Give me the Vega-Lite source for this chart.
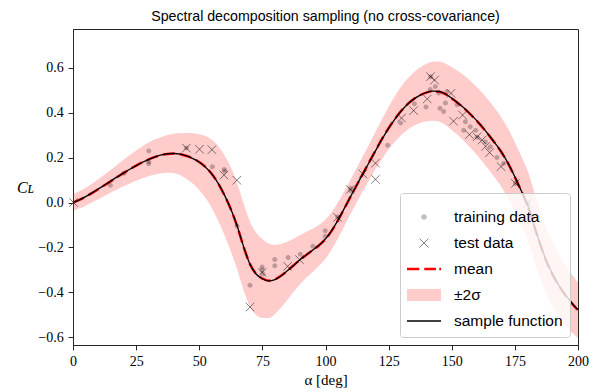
{
  "$schema": "https://vega.github.io/schema/vega-lite/v6.json",
  "width": 505,
  "height": 316,
  "autosize": {"type": "none"},
  "padding": {"left": 73, "top": 29, "right": 20, "bottom": 47},
  "title": {"text": "Spectral decomposition sampling (no cross-covariance)", "font": "Liberation Sans", "fontSize": 14.2, "fontWeight": "normal", "color": "black", "offset": 5, "anchor": "middle", "frame": "group"},
  "datasets": {
    "curve": [
      {"x": 0, "mean": 0.000, "lo": -0.037, "hi": 0.037, "sample": 0.000},
      {"x": 2.5, "mean": 0.012, "lo": -0.026, "hi": 0.050, "sample": 0.012},
      {"x": 5, "mean": 0.026, "lo": -0.014, "hi": 0.066, "sample": 0.026},
      {"x": 7.5, "mean": 0.042, "lo": 0.000, "hi": 0.084, "sample": 0.043},
      {"x": 10, "mean": 0.059, "lo": 0.014, "hi": 0.104, "sample": 0.060},
      {"x": 12.5, "mean": 0.077, "lo": 0.029, "hi": 0.125, "sample": 0.078},
      {"x": 15, "mean": 0.095, "lo": 0.044, "hi": 0.146, "sample": 0.096},
      {"x": 17.5, "mean": 0.113, "lo": 0.058, "hi": 0.168, "sample": 0.114},
      {"x": 20, "mean": 0.131, "lo": 0.072, "hi": 0.190, "sample": 0.131},
      {"x": 22.5, "mean": 0.148, "lo": 0.085, "hi": 0.211, "sample": 0.148},
      {"x": 25, "mean": 0.164, "lo": 0.097, "hi": 0.231, "sample": 0.164},
      {"x": 27.5, "mean": 0.179, "lo": 0.108, "hi": 0.250, "sample": 0.179},
      {"x": 30, "mean": 0.192, "lo": 0.117, "hi": 0.267, "sample": 0.192},
      {"x": 32.5, "mean": 0.203, "lo": 0.125, "hi": 0.281, "sample": 0.203},
      {"x": 35, "mean": 0.211, "lo": 0.130, "hi": 0.292, "sample": 0.212},
      {"x": 37.5, "mean": 0.216, "lo": 0.132, "hi": 0.300, "sample": 0.217},
      {"x": 40, "mean": 0.218, "lo": 0.130, "hi": 0.306, "sample": 0.218},
      {"x": 42.5, "mean": 0.215, "lo": 0.121, "hi": 0.309, "sample": 0.215},
      {"x": 45, "mean": 0.207, "lo": 0.105, "hi": 0.309, "sample": 0.207},
      {"x": 47.5, "mean": 0.196, "lo": 0.084, "hi": 0.308, "sample": 0.195},
      {"x": 50, "mean": 0.180, "lo": 0.056, "hi": 0.304, "sample": 0.179},
      {"x": 52.5, "mean": 0.158, "lo": 0.020, "hi": 0.296, "sample": 0.157},
      {"x": 55, "mean": 0.127, "lo": -0.025, "hi": 0.279, "sample": 0.126},
      {"x": 57.5, "mean": 0.085, "lo": -0.081, "hi": 0.251, "sample": 0.085},
      {"x": 60, "mean": 0.032, "lo": -0.146, "hi": 0.210, "sample": 0.033},
      {"x": 62.5, "mean": -0.030, "lo": -0.217, "hi": 0.157, "sample": -0.029},
      {"x": 65, "mean": -0.105, "lo": -0.297, "hi": 0.087, "sample": -0.104},
      {"x": 67.5, "mean": -0.195, "lo": -0.388, "hi": -0.002, "sample": -0.194},
      {"x": 70, "mean": -0.272, "lo": -0.462, "hi": -0.082, "sample": -0.272},
      {"x": 72.5, "mean": -0.317, "lo": -0.501, "hi": -0.133, "sample": -0.318},
      {"x": 75, "mean": -0.338, "lo": -0.514, "hi": -0.162, "sample": -0.339},
      {"x": 77.5, "mean": -0.348, "lo": -0.514, "hi": -0.182, "sample": -0.349},
      {"x": 80, "mean": -0.342, "lo": -0.496, "hi": -0.188, "sample": -0.343},
      {"x": 82.5, "mean": -0.325, "lo": -0.466, "hi": -0.184, "sample": -0.326},
      {"x": 85, "mean": -0.302, "lo": -0.431, "hi": -0.173, "sample": -0.303},
      {"x": 87.5, "mean": -0.278, "lo": -0.396, "hi": -0.160, "sample": -0.279},
      {"x": 90, "mean": -0.254, "lo": -0.363, "hi": -0.145, "sample": -0.254},
      {"x": 92.5, "mean": -0.232, "lo": -0.334, "hi": -0.130, "sample": -0.232},
      {"x": 95, "mean": -0.212, "lo": -0.308, "hi": -0.116, "sample": -0.211},
      {"x": 97.5, "mean": -0.190, "lo": -0.281, "hi": -0.099, "sample": -0.189},
      {"x": 100, "mean": -0.163, "lo": -0.250, "hi": -0.076, "sample": -0.162},
      {"x": 102.5, "mean": -0.125, "lo": -0.208, "hi": -0.042, "sample": -0.124},
      {"x": 105, "mean": -0.078, "lo": -0.158, "hi": 0.002, "sample": -0.077},
      {"x": 107.5, "mean": -0.026, "lo": -0.104, "hi": 0.052, "sample": -0.025},
      {"x": 110, "mean": 0.027, "lo": -0.050, "hi": 0.104, "sample": 0.028},
      {"x": 112.5, "mean": 0.080, "lo": 0.003, "hi": 0.157, "sample": 0.080},
      {"x": 115, "mean": 0.132, "lo": 0.054, "hi": 0.210, "sample": 0.132},
      {"x": 117.5, "mean": 0.184, "lo": 0.104, "hi": 0.264, "sample": 0.183},
      {"x": 120, "mean": 0.235, "lo": 0.151, "hi": 0.319, "sample": 0.234},
      {"x": 122.5, "mean": 0.285, "lo": 0.196, "hi": 0.374, "sample": 0.284},
      {"x": 125, "mean": 0.331, "lo": 0.236, "hi": 0.426, "sample": 0.330},
      {"x": 127.5, "mean": 0.372, "lo": 0.270, "hi": 0.474, "sample": 0.371},
      {"x": 130, "mean": 0.408, "lo": 0.300, "hi": 0.516, "sample": 0.407},
      {"x": 132.5, "mean": 0.438, "lo": 0.324, "hi": 0.552, "sample": 0.437},
      {"x": 135, "mean": 0.461, "lo": 0.342, "hi": 0.580, "sample": 0.461},
      {"x": 137.5, "mean": 0.478, "lo": 0.354, "hi": 0.602, "sample": 0.478},
      {"x": 140, "mean": 0.489, "lo": 0.361, "hi": 0.617, "sample": 0.490},
      {"x": 142.5, "mean": 0.495, "lo": 0.364, "hi": 0.626, "sample": 0.496},
      {"x": 145, "mean": 0.493, "lo": 0.359, "hi": 0.627, "sample": 0.494},
      {"x": 147.5, "mean": 0.482, "lo": 0.345, "hi": 0.619, "sample": 0.483},
      {"x": 150, "mean": 0.463, "lo": 0.323, "hi": 0.603, "sample": 0.464},
      {"x": 152.5, "mean": 0.442, "lo": 0.299, "hi": 0.585, "sample": 0.443},
      {"x": 155, "mean": 0.418, "lo": 0.272, "hi": 0.564, "sample": 0.419},
      {"x": 157.5, "mean": 0.391, "lo": 0.242, "hi": 0.540, "sample": 0.392},
      {"x": 160, "mean": 0.362, "lo": 0.211, "hi": 0.513, "sample": 0.363},
      {"x": 162.5, "mean": 0.330, "lo": 0.177, "hi": 0.483, "sample": 0.331},
      {"x": 165, "mean": 0.295, "lo": 0.141, "hi": 0.449, "sample": 0.296},
      {"x": 167.5, "mean": 0.258, "lo": 0.103, "hi": 0.413, "sample": 0.259},
      {"x": 170, "mean": 0.218, "lo": 0.063, "hi": 0.373, "sample": 0.219},
      {"x": 172.5, "mean": 0.170, "lo": 0.015, "hi": 0.325, "sample": 0.171},
      {"x": 175, "mean": 0.113, "lo": -0.042, "hi": 0.268, "sample": 0.114},
      {"x": 177.5, "mean": 0.052, "lo": -0.103, "hi": 0.207, "sample": 0.053},
      {"x": 180, "mean": -0.012, "lo": -0.167, "hi": 0.143, "sample": -0.010},
      {"x": 182.5, "mean": -0.100, "lo": -0.254, "hi": 0.054, "sample": -0.098},
      {"x": 185, "mean": -0.185, "lo": -0.337, "hi": -0.033, "sample": -0.183},
      {"x": 187.5, "mean": -0.262, "lo": -0.411, "hi": -0.113, "sample": -0.260},
      {"x": 190, "mean": -0.322, "lo": -0.467, "hi": -0.177, "sample": -0.320},
      {"x": 192.5, "mean": -0.372, "lo": -0.512, "hi": -0.232, "sample": -0.370},
      {"x": 195, "mean": -0.413, "lo": -0.548, "hi": -0.278, "sample": -0.411},
      {"x": 197.5, "mean": -0.448, "lo": -0.577, "hi": -0.319, "sample": -0.446},
      {"x": 200, "mean": -0.480, "lo": -0.603, "hi": -0.357, "sample": -0.478}
    ],
    "pts": [
      {"x": 14.8, "y": 0.077, "series": "training data"},
      {"x": 20.2, "y": 0.130, "series": "training data"},
      {"x": 30.0, "y": 0.229, "series": "training data"},
      {"x": 30.0, "y": 0.181, "series": "training data"},
      {"x": 30.0, "y": 0.172, "series": "training data"},
      {"x": 44.9, "y": 0.242, "series": "training data"},
      {"x": 55.2, "y": 0.159, "series": "training data"},
      {"x": 59.9, "y": 0.147, "series": "training data"},
      {"x": 60.1, "y": 0.139, "series": "training data"},
      {"x": 65.0, "y": -0.106, "series": "training data"},
      {"x": 70.1, "y": -0.368, "series": "training data"},
      {"x": 74.9, "y": -0.287, "series": "training data"},
      {"x": 74.9, "y": -0.300, "series": "training data"},
      {"x": 75.2, "y": -0.318, "series": "training data"},
      {"x": 79.9, "y": -0.254, "series": "training data"},
      {"x": 79.9, "y": -0.281, "series": "training data"},
      {"x": 85.2, "y": -0.245, "series": "training data"},
      {"x": 90.0, "y": -0.230, "series": "training data"},
      {"x": 95.0, "y": -0.195, "series": "training data"},
      {"x": 99.9, "y": -0.126, "series": "training data"},
      {"x": 99.9, "y": -0.150, "series": "training data"},
      {"x": 104.8, "y": -0.064, "series": "training data"},
      {"x": 110.0, "y": 0.052, "series": "training data"},
      {"x": 110.0, "y": 0.064, "series": "training data"},
      {"x": 124.6, "y": 0.255, "series": "training data"},
      {"x": 129.8, "y": 0.354, "series": "training data"},
      {"x": 135.2, "y": 0.439, "series": "training data"},
      {"x": 139.8, "y": 0.425, "series": "training data"},
      {"x": 141.5, "y": 0.503, "series": "training data"},
      {"x": 141.6, "y": 0.560, "series": "training data"},
      {"x": 143.5, "y": 0.516, "series": "training data"},
      {"x": 144.8, "y": 0.487, "series": "training data"},
      {"x": 145.3, "y": 0.419, "series": "training data"},
      {"x": 146.8, "y": 0.405, "series": "training data"},
      {"x": 147.5, "y": 0.443, "series": "training data"},
      {"x": 148.1, "y": 0.493, "series": "training data"},
      {"x": 152.1, "y": 0.435, "series": "training data"},
      {"x": 154.7, "y": 0.322, "series": "training data"},
      {"x": 155.4, "y": 0.359, "series": "training data"},
      {"x": 157.3, "y": 0.337, "series": "training data"},
      {"x": 159.5, "y": 0.322, "series": "training data"},
      {"x": 160.0, "y": 0.290, "series": "training data"},
      {"x": 163.3, "y": 0.270, "series": "training data"},
      {"x": 165.3, "y": 0.248, "series": "training data"},
      {"x": 167.9, "y": 0.200, "series": "training data"},
      {"x": 170.5, "y": 0.174, "series": "training data"},
      {"x": 175.2, "y": 0.085, "series": "training data"},
      {"x": 180.0, "y": -0.004, "series": "training data"},
      {"x": 0.2, "y": 0.000, "series": "test data"},
      {"x": 44.9, "y": 0.242, "series": "test data"},
      {"x": 50.1, "y": 0.237, "series": "test data"},
      {"x": 55.0, "y": 0.235, "series": "test data"},
      {"x": 59.8, "y": 0.122, "series": "test data"},
      {"x": 64.9, "y": 0.099, "series": "test data"},
      {"x": 70.1, "y": -0.465, "series": "test data"},
      {"x": 74.9, "y": -0.311, "series": "test data"},
      {"x": 85.0, "y": -0.284, "series": "test data"},
      {"x": 89.7, "y": -0.254, "series": "test data"},
      {"x": 104.8, "y": -0.066, "series": "test data"},
      {"x": 109.8, "y": 0.058, "series": "test data"},
      {"x": 114.8, "y": 0.127, "series": "test data"},
      {"x": 119.8, "y": 0.175, "series": "test data"},
      {"x": 119.8, "y": 0.103, "series": "test data"},
      {"x": 130.1, "y": 0.376, "series": "test data"},
      {"x": 134.9, "y": 0.409, "series": "test data"},
      {"x": 140.3, "y": 0.461, "series": "test data"},
      {"x": 141.6, "y": 0.560, "series": "test data"},
      {"x": 143.2, "y": 0.545, "series": "test data"},
      {"x": 149.7, "y": 0.486, "series": "test data"},
      {"x": 150.7, "y": 0.362, "series": "test data"},
      {"x": 154.3, "y": 0.389, "series": "test data"},
      {"x": 157.0, "y": 0.302, "series": "test data"},
      {"x": 160.0, "y": 0.292, "series": "test data"},
      {"x": 162.0, "y": 0.278, "series": "test data"},
      {"x": 163.4, "y": 0.250, "series": "test data"},
      {"x": 165.0, "y": 0.222, "series": "test data"},
      {"x": 169.5, "y": 0.160, "series": "test data"},
      {"x": 175.2, "y": 0.085, "series": "test data"},
      {"x": 180.0, "y": -0.004, "series": "test data"}
    ]
  },
  "layer": [
    {
      "data": {"name": "curve"},
      "mark": {"type": "area", "color": "#ff0000", "opacity": 0.2, "interpolate": "monotone"},
      "encoding": {
        "x": {"field": "x", "type": "quantitative", "title": "α [deg]",
              "scale": {"domain": [0, 200], "nice": false, "zero": false},
              "axis": {"values": [0, 25, 50, 75, 100, 125, 150, 175, 200], "format": "d", "labelFlush": false, "titleFontSize": 15, "titlePadding": 4}},
        "y": {"field": "lo", "type": "quantitative", "title": "Cʟ",
              "scale": {"domain": [-0.634, 0.772], "nice": false, "zero": false},
              "axis": {"values": [-0.6, -0.4, -0.2, 0.0, 0.2, 0.4, 0.6], "format": ".1f", "titleAngle": 0, "titleX": -48, "titleY": 158, "titleAlign": "center", "titleBaseline": "middle", "titleFontSize": 16, "titleFontStyle": "italic"}},
        "y2": {"field": "hi"}
      }
    },
    {
      "data": {"name": "curve"},
      "mark": {"type": "line", "color": "#ff0000", "strokeWidth": 2.5, "strokeDash": [12, 5], "interpolate": "monotone"},
      "encoding": {
        "x": {"field": "x", "type": "quantitative", "title": "α [deg]"},
        "y": {"field": "mean", "type": "quantitative", "title": "Cʟ"}
      }
    },
    {
      "data": {"name": "curve"},
      "mark": {"type": "line", "color": "#000000", "strokeWidth": 1.3, "interpolate": "monotone"},
      "encoding": {
        "x": {"field": "x", "type": "quantitative", "title": "α [deg]"},
        "y": {"field": "sample", "type": "quantitative", "title": "Cʟ"}
      }
    },
    {
      "data": {"name": "pts"},
      "mark": {"type": "point", "strokeWidth": 1, "opacity": 1},
      "encoding": {
        "x": {"field": "x", "type": "quantitative", "title": "α [deg]"},
        "y": {"field": "y", "type": "quantitative", "title": "Cʟ"},
        "shape": {
          "field": "series", "type": "nominal",
          "scale": {
            "domain": ["training data", "test data", "mean", "±2σ", "sample function"],
            "range": [
              "M-0.17,0A0.17,0.17,0,1,0,0.17,0A0.17,0.17,0,1,0,-0.17,0Z",
              "M-0.267,-0.267L0.267,0.267M-0.267,0.267L0.267,-0.267",
              "M-1.03,-0.073L-0.285,-0.073L-0.285,0.073L-1.03,0.073ZM0.018,-0.073L0.727,-0.073L0.727,0.073L0.018,0.073ZM0.927,-0.073L1.03,-0.073L1.03,0.073L0.927,0.073Z",
              "M-1.03,-0.364L1.03,-0.364L1.03,0.364L-1.03,0.364Z",
              "M-1.03,-0.04L1.03,-0.04L1.03,0.04L-1.03,0.04Z"
            ]
          },
          "legend": {"title": null, "orient": "bottom-right"}
        },
        "fill": {
          "field": "series", "type": "nominal",
          "scale": {
            "domain": ["training data", "test data", "mean", "±2σ", "sample function"],
            "range": ["rgba(0,0,0,0.25)", "transparent", "#ff0000", "rgba(255,0,0,0.2)", "#000000"]
          },
          "legend": {"title": null, "orient": "bottom-right"}
        },
        "stroke": {
          "field": "series", "type": "nominal",
          "scale": {
            "domain": ["training data", "test data", "mean", "±2σ", "sample function"],
            "range": ["transparent", "rgba(0,0,0,0.5)", "transparent", "transparent", "transparent"]
          },
          "legend": {"title": null, "orient": "bottom-right"}
        },
        "size": {"condition": {"test": "datum.series === 'training data'", "value": 864}, "value": 1013}
      }
    }
  ],
  "config": {
    "view": {"stroke": "#262626", "strokeWidth": 1},
    "axis": {
      "grid": false,
      "domainColor": "#262626",
      "tickColor": "#262626",
      "tickSize": 4.9,
      "labelPadding": 4.9,
      "labelFont": "Liberation Serif",
      "labelFontSize": 14,
      "labelColor": "black",
      "titleFont": "Liberation Serif",
      "titleFontWeight": "normal",
      "titleColor": "black"
    },
    "legend": {
      "orient": "bottom-right",
      "offset": 8,
      "padding": 7,
      "fillColor": "rgba(255,255,255,0.8)",
      "strokeColor": "#cccccc",
      "cornerRadius": 3,
      "labelFont": "Liberation Sans",
      "labelFontSize": 15.5,
      "labelColor": "black",
      "labelOffset": 13,
      "symbolSize": 1089,
      "symbolStrokeWidth": 1,
      "symbolOpacity": 1,
      "rowPadding": -4.2
    }
  }
}
